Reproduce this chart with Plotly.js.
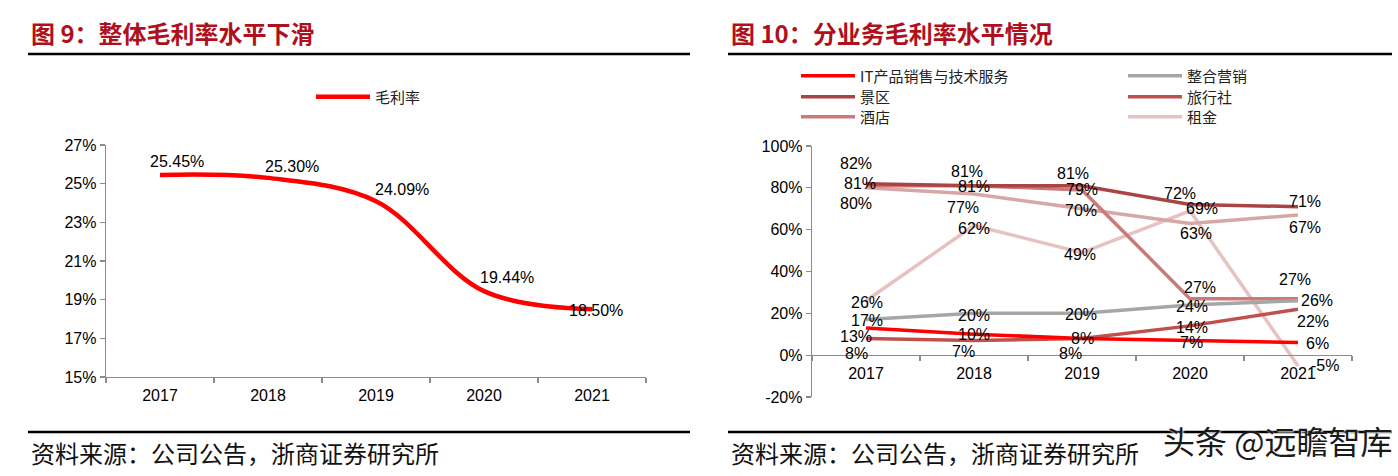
<!DOCTYPE html>
<html>
<head>
<meta charset="utf-8">
<script src="https://cdn.plot.ly/plotly-3.0.1.min.js"></script>
<style>
  html, body { margin: 0; padding: 0; background: #fff; }
  #chart { width: 1398px; height: 476px; }
</style>
</head>
<body>
<div id="chart"></div>
<script>
// ---------- data ----------
const years = ['2017', '2018', '2019', '2020', '2021'];

// 图9 整体毛利率 (%)
const grossMargin = [25.45, 25.30, 24.09, 19.44, 18.50];

// 图10 分业务毛利率 (%)
const itService  = [13, 10, 8, 7, 6];       // IT产品销售与技术服务
const marketing  = [17, 20, 20, 24, 26];    // 整合营销
const scenic     = [82, 81, 81, 72, 71];    // 景区
const travel     = [8, 7, 8, 14, 22];       // 旅行社
const hotel      = [81, 81, 79, 27, 27];    // 酒店
const unlisted   = [80, 77, 70, 63, 67];    // 未列入图例的业务线
const rent       = [26, 62, 49, 69, -5];    // 租金

const leftTicks  = [15, 17, 19, 21, 23, 25, 27];
const rightTicks = [-20, 0, 20, 40, 60, 80, 100];

// ---------- helpers ----------
const W = 1398, H = 476;
const px = x => x / W;
const py = y => 1 - y / H;

const NUM_FONT = 'Liberation Sans, Arial, sans-serif';
const CJK_FONT = 'Noto Sans CJK SC, sans-serif';

// label offsets (pixels, [dx, dy] with dy downward) — style only
const leftOffsets = [[17, -13], [24, -11], [26, -12], [23, -14], [4, 1]];

// ---------- traces ----------
const traces = [];
const annotations = [];

function addLabels(ys, texts, offs, xref, yref) {
  ys.forEach((v, i) => {
    annotations.push({
      x: i, y: v, xref: xref, yref: yref, text: texts[i], showarrow: false,
      xanchor: 'center', yanchor: 'middle',
      xshift: offs[i][0], yshift: -offs[i][1],
      font: {family: NUM_FONT, size: 16, color: '#000'}
    });
  });
}

// left chart
traces.push({
  x: years, y: grossMargin, name: '毛利率', type: 'scatter', mode: 'lines',
  xaxis: 'x', yaxis: 'y', legend: 'legend',
  line: {color: '#ff0000', width: 4.5, shape: 'spline', smoothing: 1},
  hoverinfo: 'x+y'
});
addLabels(grossMargin, grossMargin.map(v => v.toFixed(2) + '%'), leftOffsets, 'x', 'y');

// right chart series (drawing order: back to front)
const series = [
  {name: '租金', y: rent, color: '#e6c2c2', legend: 'legend7', show: true,
   offs: [[1, 2], [0, 3], [-2, 2], [12, -2], [27, 0]]},
  {name: '其他', y: unlisted, color: '#d9a6a6', legend: 'legend', show: false,
   offs: [[-10, 16], [-11, 13], [-1, 2], [6, 10], [7, 12]]},
  {name: '酒店', y: hotel, color: '#c97a7a', legend: 'legend4', show: true,
   offs: [[-6, -2], [0, 1], [0, 0], [10, -11], [-3, -19]]},
  {name: '景区', y: scenic, color: '#aa4444', legend: 'legend3', show: true,
   offs: [[-10, -20], [-7, -14], [-9, -12], [-10, -11], [7, -5]]},
  {name: '旅行社', y: travel, color: '#c0504d', legend: 'legend6', show: true,
   offs: [[-10, 15], [-11, 11], [-12, 15], [2, 2], [15, 12]]},
  {name: '整合营销', y: marketing, color: '#a6a6a6', legend: 'legend5', show: true,
   offs: [[1, 1], [0, 2], [-1, 1], [2, 2], [19, 0]]},
  {name: 'IT产品销售与技术服务', y: itService, color: '#ff0000', legend: 'legend2', show: true,
   offs: [[-10, 9], [0, 0], [0, 0], [1, 2], [19, 1]]}
];

series.forEach(s => {
  traces.push({
    x: years, y: s.y, name: s.name, type: 'scatter', mode: 'lines',
    xaxis: 'x2', yaxis: 'y2', legend: s.legend, showlegend: s.show,
    line: {color: s.color, width: 3.5},
    hoverinfo: 'x+y+name'
  });
  addLabels(s.y, s.y.map(v => v + '%'), s.offs, 'x2', 'y2');
});

// ---------- layout ----------
const axisBase = {
  showline: true, linecolor: '#8c8c8c', linewidth: 1.3,
  ticks: 'outside', ticklen: 5, tickcolor: '#8c8c8c', tickwidth: 1.3,
  showgrid: false, zeroline: false, automargin: false,
  tickfont: {family: NUM_FONT, size: 16, color: '#000'}, fixedrange: true
};

function legendAt(x, y) {
  return {
    orientation: 'v', xanchor: 'left', yanchor: 'middle', x: px(x), y: py(y),
    bgcolor: 'rgba(0,0,0,0)', borderwidth: 0, itemwidth: 54,
    font: {family: CJK_FONT, size: 15, color: '#222'}
  };
}

const title = (t, x) => ({
  text: t, xref: 'paper', yref: 'paper', x: px(x), y: py(33),
  xanchor: 'left', yanchor: 'middle', showarrow: false,
  font: {family: CJK_FONT, size: 24, color: '#b0101c', weight: 700}
});
const source = x => ({
  text: '资料来源：公司公告，浙商证券研究所', xref: 'paper', yref: 'paper', x: px(x), y: py(452),
  xanchor: 'left', yanchor: 'middle', showarrow: false,
  font: {family: CJK_FONT, size: 24, color: '#111'}
});
const hline = (x0, x1, y) => ({
  type: 'line', xref: 'paper', yref: 'paper', x0: px(x0), x1: px(x1), y0: py(y), y1: py(y),
  line: {color: '#000', width: 2.5}
});

annotations.push(title('图 9：整体毛利率水平下滑', 29));
annotations.push(title('图 10：分业务毛利率水平情况', 729));
annotations.push(source(29));
annotations.push(source(729));
annotations.push({
  text: '头条 @远瞻智库', xref: 'paper', yref: 'paper', x: px(1394), y: py(440),
  xanchor: 'right', yanchor: 'middle', showarrow: false,
  font: {family: CJK_FONT, size: 32, color: '#1a1a1a', shadow: '1px 1px 2px #ffffff'}
});

const layout = {
  width: W, height: H,
  margin: {l: 0, r: 0, t: 0, b: 0, pad: 0},
  paper_bgcolor: '#fff', plot_bgcolor: 'rgba(0,0,0,0)',
  showlegend: true,
  xaxis: Object.assign({}, axisBase, {
    type: 'category', domain: [px(106), px(646)], anchor: 'y',
    range: [-0.5, 4.5], tickson: 'boundaries', ticklabelstandoff: 3
  }),
  yaxis: Object.assign({}, axisBase, {
    domain: [py(377), py(145)], anchor: 'x',
    range: [15, 27], tickvals: leftTicks, ticktext: leftTicks.map(v => v + '%')
  }),
  xaxis2: Object.assign({}, axisBase, {
    type: 'category', domain: [px(812), px(1352)], anchor: 'free',
    position: py(355), range: [-0.5, 4.5], tickson: 'boundaries', ticklabelstandoff: 3
  }),
  yaxis2: Object.assign({}, axisBase, {
    domain: [py(397), py(146)], anchor: 'x2',
    range: [-20, 100], tickvals: rightTicks, ticktext: rightTicks.map(v => v + '%')
  }),
  legend: legendAt(311, 97),
  legend2: legendAt(796, 76),
  legend3: legendAt(796, 97),
  legend4: legendAt(796, 117),
  legend5: legendAt(1123, 76),
  legend6: legendAt(1123, 97),
  legend7: legendAt(1123, 117),
  shapes: [hline(28, 690, 54), hline(728, 1392, 54), hline(28, 690, 432), hline(728, 1392, 432)],
  annotations: annotations
};

Plotly.newPlot('chart', traces, layout, {displayModeBar: false, staticPlot: true});
</script>
</body>
</html>
